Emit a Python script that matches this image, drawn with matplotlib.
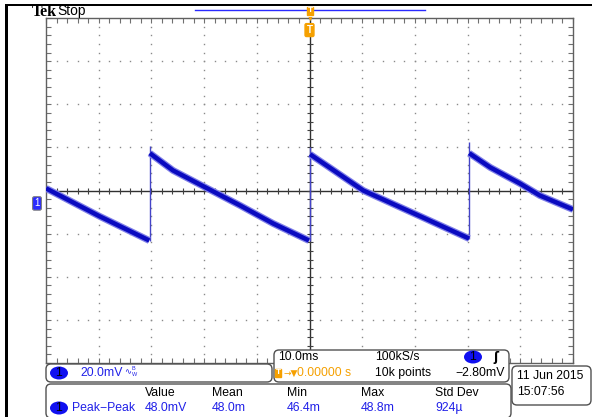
from matplotlib import pyplot as plt
from matplotlib.patches import FancyBboxPatch, Ellipse
from matplotlib.transforms import blended_transform_factory
import numpy as np

W, H = 592, 417

# scope settings
T_DIV = 10.0      # ms / div
V_DIV = 20.0      # mV / div
V_CENTER = 6.0    # mV at screen centre (ground marker sits 0.3 div below)

# trace: time (ms), voltage (mV)
ramp1_t = [-50.0, -39.8, -30.4]
ramp1_v = [7.0, -6.0, -17.2]
ramp2_t = [-30.3, -25.9, -19.4, -13.2, -6.9, -0.1]
ramp2_v = [23.3, 15.3, 7.0, -0.9, -9.3, -17.2]
ramp3_t = [0.1, 4.5, 10.2, 21.5, 30.3]
ramp3_v = [22.8, 15.5, 6.0, -6.5, -16.3]
ramp4_t = [30.3, 34.3, 39.9, 43.7, 50.0]
ramp4_v = [23.3, 16.7, 9.3, 3.7, -2.8]
jump_t = [-30.35, 0.0, 30.3]
jump_low = [-17.2, -17.2, -16.3]
jump_high = [26.5, 26.0, 28.4]

# readouts
ch_scale = "20.0mV"
timebase = "10.0ms"
sample_rate = "100kS/s"
trig_pos = "0.00000 s"
rec_len = "10k points"
trig_level = "\u22122.80mV"
date_str = "11 Jun 2015"
time_str = "15:07:56"
meas_heads = ["Value", "Mean", "Min", "Max", "Std Dev"]
meas_vals = ["48.0mV", "48.0m", "46.4m", "48.8m", "924\u00b5"]
meas_x = [145, 212, 287, 361, 435]

BLUE = "#2020e8"
ORANGE = "#f5a000"
FS = 8.8

plt.rcParams['font.family'] = ["Liberation Sans", 'DejaVu Sans']

fig = plt.figure(figsize=(W / 100, H / 100), dpi=100)
fig.patch.set_facecolor("white")


def fx(px):
    return px / W


def fy(py):
    return 1 - py / H


def box(x0, y0, x1, y1, ec="#505050", fc="white", r=0.05, lw=1.0):
    p = FancyBboxPatch((x0 / 100, (H - y1) / 100), (x1 - x0) / 100, (y1 - y0) / 100,
                       boxstyle=f"round,pad=0,rounding_size={r}",
                       transform=fig.dpi_scale_trans, ec=ec, fc=fc, lw=lw)
    fig.add_artist(p)


def circle_one(xc, yc):
    e = Ellipse((xc / 100, (H - yc) / 100), 0.18, 0.13, transform=fig.dpi_scale_trans,
                fc="#1010f0", ec="none")
    fig.add_artist(e)
    fig.text(fx(xc), fy(yc), "1", ha="center", va="center", fontsize=FS, color="black")


# graticule
ax = fig.add_axes([fx(46), 1 - 363 / H, 527 / W, 345 / H])
ax.set_xlim(-5 * T_DIV, 5 * T_DIV)
ax.set_ylim(V_CENTER - 4 * V_DIV, V_CENTER + 4 * V_DIV)
ax.set_xticks(np.arange(-50, 51, 10))
ax.set_xticks(np.arange(-50, 51, 2), minor=True)
ax.set_yticks(V_CENTER + np.arange(-80, 81, 20))
ax.set_yticks(V_CENTER + np.arange(-80, 81, 4), minor=True)
ax.tick_params(which="both", direction="in", length=3.5, width=0.8, color="#707070",
               top=True, right=True, labelbottom=False, labelleft=False)
for s in ax.spines.values():
    s.set_color("#606060")
    s.set_linewidth(1.0)

minor_x = np.arange(-50, 51, 2)
minor_y = V_CENTER + np.arange(-80, 81, 4)
for xg in [-40, -30, -20, -10, 10, 20, 30, 40]:
    ax.plot([xg] * len(minor_y), minor_y, ls="none", marker="s", ms=1.0, mew=0,
            color="#8a8a8a")
for k in [-3, -2, -1, 1, 2, 3]:
    ax.plot(minor_x, [V_CENTER + k * V_DIV] * len(minor_x), ls="none", marker="s",
            ms=1.0, mew=0, color="#8a8a8a")
ax.axhline(V_CENTER, color="#303030", lw=1.0)
ax.axvline(0, color="#303030", lw=1.0)
ax.plot(minor_x, [V_CENTER] * len(minor_x), ls="none", marker="|", ms=5, mew=0.8,
        color="#404040")
ax.plot([0] * len(minor_y), minor_y, ls="none", marker="_", ms=5, mew=0.8,
        color="#404040")

# trace
ax.vlines(jump_t, jump_low, jump_high, color="#4444c8", lw=1.0, zorder=4)
for t, v in [(ramp1_t, ramp1_v), (ramp2_t, ramp2_v), (ramp3_t, ramp3_v), (ramp4_t, ramp4_v)]:
    ax.plot(t, v, color="#8080e8", lw=5.0, solid_capstyle="butt", zorder=5)
    ax.plot(t, v, color="#0a0ac0", lw=3.2, solid_capstyle="butt", zorder=6)

# ground marker
tr = blended_transform_factory(ax.transAxes, ax.transData)
ax.text(-0.012, 0.0, "1", transform=tr, ha="right", va="center", fontsize=7,
        color="white", clip_on=False,
        bbox=dict(boxstyle="round,pad=0.18", fc="#2a2aff", ec="#808080", lw=0.8))

# trigger position markers
ax.text(0, V_CENTER + 3.72 * V_DIV, "T", ha="center", va="center", fontsize=7,
        fontweight="bold", color="white", zorder=8,
        bbox=dict(boxstyle="round,pad=0.15", fc=ORANGE, ec=ORANGE))
fig.add_artist(plt.Line2D([fx(195), fx(425)], [fy(10), fy(10)], color="#2a2aff", lw=1.0))
fig.text(fx(310), fy(11), "T", ha="center", va="center", fontsize=6, fontweight="bold",
         color="white", bbox=dict(boxstyle="square,pad=0.1", fc=ORANGE, ec=ORANGE))
fig.text(fx(310), fy(19.5), "\u25bc", ha="center", va="center", fontsize=5, color=ORANGE)

# frame of the screenshot
fig.add_artist(plt.Rectangle((fx(5), 0), fx(3), fy(4), transform=fig.transFigure,
                             fc="black", ec="none"))
fig.add_artist(plt.Rectangle((fx(5), fy(6)), fx(587), 2 / H, transform=fig.transFigure,
                             fc="black", ec="none"))
fig.text(fx(32), fy(11.5), "Tek", fontsize=11.5, fontweight="bold",
         family=["Liberation Serif"], va="center", ha="left")
fig.text(fx(57), fy(11.5), "Stop", fontsize=10, va="center", ha="left")

# channel box
box(46, 364, 272, 382)
circle_one(59, 373)
fig.text(fx(80), fy(373), ch_scale, color=BLUE, fontsize=FS, va="center")
fig.text(fx(124.5), fy(372), "\u223f", color=BLUE, fontsize=6, va="center",
         family=["DejaVu Sans"])
fig.text(fx(131), fy(369), "B", color=BLUE, fontsize=4, va="center")
fig.text(fx(131.5), fy(375), "W", color=BLUE, fontsize=4, va="center")

# horizontal / trigger box
box(274, 350, 509, 382)
fig.text(fx(278), fy(357), timebase, fontsize=FS, va="center")
fig.text(fx(375), fy(357), sample_rate, fontsize=FS, va="center")
circle_one(473, 357)
fig.text(fx(493), fy(357), "\u0283", fontsize=FS, va="center", fontweight="bold",
         family=["DejaVu Sans"])
fig.text(fx(275.5), fy(373), "T", fontsize=6, fontweight="bold", color="white",
         va="center", bbox=dict(boxstyle="square,pad=0.1", fc=ORANGE, ec=ORANGE))
fig.text(fx(283), fy(373), "\u2192\u25bc", fontsize=6.5, color=ORANGE, va="center",
         family=["DejaVu Sans"])
fig.text(fx(297), fy(373), trig_pos, fontsize=FS, color=ORANGE, va="center")
fig.text(fx(375), fy(373), rec_len, fontsize=FS, va="center")
fig.text(fx(505), fy(373), trig_level, fontsize=FS, va="center", ha="right")

# date box
box(512, 366, 591, 405)
fig.text(fx(517), fy(376), date_str, fontsize=FS, va="center")
fig.text(fx(517), fy(392), time_str, fontsize=FS, va="center")

# measurement box
box(46, 384, 511, 418)
circle_one(59, 408)
fig.text(fx(72), fy(408), "Peak\u2212Peak", color=BLUE, fontsize=FS, va="center")
for x, h, v in zip(meas_x, meas_heads, meas_vals):
    fig.text(fx(x), fy(393), h, fontsize=FS, va="center")
    fig.text(fx(x), fy(408), v, color=BLUE, fontsize=FS, va="center")

fig.savefig("out.png", dpi=100)
plt.close(fig)
